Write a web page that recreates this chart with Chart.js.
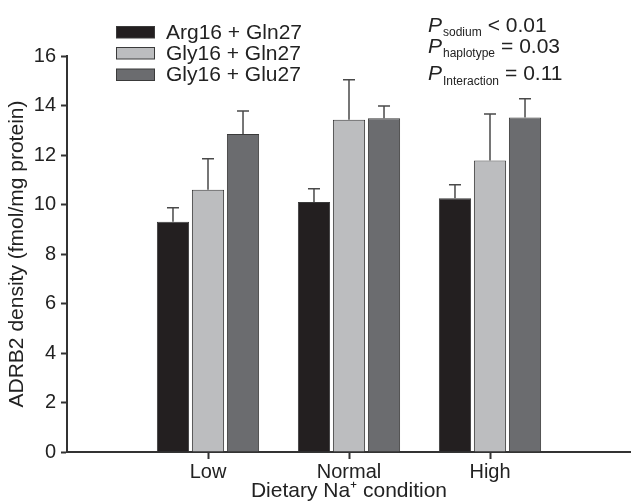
<!DOCTYPE html>
<html>
<head>
<meta charset="utf-8">
<script src="https://cdn.jsdelivr.net/npm/chart.js@4.4.1/dist/chart.umd.min.js"></script>
<style>
  html, body { margin: 0; padding: 0; background: #fff; }
  #wrap { width: 631px; height: 502px; }
</style>
</head>
<body>
<div id="wrap"><canvas id="chart" width="631" height="502"></canvas></div>
<script>
'use strict';

const categories = ['Low', 'Normal', 'High'];
const haplotypes = ['Arg16 + Gln27', 'Gly16 + Gln27', 'Gly16 + Glu27'];

// mean ADRB2 density per sodium condition
const arg16Gln27 = [9.3, 10.1, 10.25];
const gly16Gln27 = [10.6, 13.42, 11.78];
const gly16Glu27 = [12.85, 13.48, 13.52];

// upper error (SEM)
const arg16Gln27Err = [0.57, 0.54, 0.55];
const gly16Gln27Err = [1.25, 1.62, 1.88];
const gly16Glu27Err = [0.93, 0.5, 0.75];

const pTerms = ['sodium', 'haplotype', 'Interaction'];
const pValues = ['< 0.01', '= 0.03', '= 0.11'];

const yTicks = [0, 2, 4, 6, 8, 10, 12, 14, 16];

const fills = ['#231f20', '#bcbdbf', '#6b6c6f'];
const edge = '#3a3a3a';
const axisColor = '#333';
const FONT = '"Liberation Sans", Arial, sans-serif';

Chart.defaults.font.family = FONT;
Chart.defaults.color = '#222';

const series = [arg16Gln27, gly16Gln27, gly16Glu27];
const errors = [arg16Gln27Err, gly16Gln27Err, gly16Glu27Err];

const errorBars = {
  id: 'errorBars',
  afterDatasetsDraw(chart) {
    const { ctx, scales: { y } } = chart;
    ctx.save();
    ctx.strokeStyle = '#4a4a4a';
    ctx.lineWidth = 1.5;
    series.forEach((vals, i) => {
      chart.getDatasetMeta(i).data.forEach((bar, j) => {
        const top = y.getPixelForValue(vals[j] + errors[i][j]);
        ctx.beginPath();
        ctx.moveTo(bar.x, bar.y);
        ctx.lineTo(bar.x, top);
        ctx.moveTo(bar.x - 6, top);
        ctx.lineTo(bar.x + 6, top);
        ctx.stroke();
      });
    });
    ctx.restore();
  }
};

const legendAndStats = {
  id: 'legendAndStats',
  afterDraw(chart) {
    const { ctx } = chart;
    ctx.save();
    // legend
    const rowTop = [26.5, 47.5, 69];
    ctx.font = '21px ' + FONT;
    ctx.textBaseline = 'alphabetic';
    haplotypes.forEach((name, i) => {
      ctx.fillStyle = fills[i];
      ctx.fillRect(116.5, rowTop[i], 38, 11.5);
      ctx.strokeStyle = edge;
      ctx.lineWidth = 1;
      ctx.strokeRect(116.5, rowTop[i], 38, 11.5);
      ctx.fillStyle = '#222';
      ctx.fillText(name, 166, rowTop[i] + 12);
    });
    // p values
    const base = [31.7, 52.7, 80];
    pTerms.forEach((term, i) => {
      ctx.fillStyle = '#222';
      ctx.font = 'italic 21px ' + FONT;
      ctx.fillText('P', 428, base[i]);
      ctx.font = '12px ' + FONT;
      ctx.fillText(term, 443, base[i] + 4.5);
      const w = ctx.measureText(term).width;
      ctx.font = '21px ' + FONT;
      ctx.fillText(pValues[i], 443 + w + 6, base[i]);
    });
    ctx.restore();
  }
};

new Chart('chart', {
  type: 'bar',
  data: {
    datasets: haplotypes.map((label, i) => ({
      label,
      data: series[i].map((v, j) => ({ x: j + 1, y: v })),
      backgroundColor: fills[i],
      borderColor: edge,
      borderWidth: 1,
      barPercentage: 0.92,
      categoryPercentage: 0.745
    }))
  },
  options: {
    responsive: false,
    animation: false,
    layout: { padding: { top: 56, left: 0, right: 0, bottom: 0 } },
    plugins: { legend: { display: false }, tooltip: { enabled: false } },
    scales: {
      x: {
        type: 'linear',
        min: 0,
        max: 4,
        offset: false,
        afterBuildTicks: scale => { scale.ticks = categories.map((c, i) => ({ value: i + 1 })); },
        afterFit: scale => { scale.height = 50; },
        ticks: {
          callback: v => categories[v - 1],
          font: { size: 20 },
          color: '#222',
          padding: 1
        },
        grid: { offset: false, drawOnChartArea: false, tickLength: 7, color: axisColor, tickWidth: 2 },
        border: { color: axisColor, width: 2 },
        title: {
          display: true,
          text: 'Dietary Na⁺ condition',
          font: { size: 21, lineHeight: 1 },
          color: '#222',
          padding: { top: 0, bottom: 0 }
        }
      },
      y: {
        min: 0,
        max: 16,
        afterBuildTicks: scale => { scale.ticks = yTicks.map(v => ({ value: v })); },
        afterFit: scale => { scale.width = 67; },
        ticks: { font: { size: 20 }, color: '#222', padding: 5 },
        grid: { drawOnChartArea: false, tickLength: 6, color: axisColor, tickWidth: 2 },
        border: { color: axisColor, width: 2 },
        title: {
          display: true,
          text: 'ADRB2 density (fmol/mg protein)',
          font: { size: 21 },
          color: '#222',
          padding: { top: 5, bottom: 0 }
        }
      }
    }
  },
  plugins: [errorBars, legendAndStats]
});
</script>
</body>
</html>
